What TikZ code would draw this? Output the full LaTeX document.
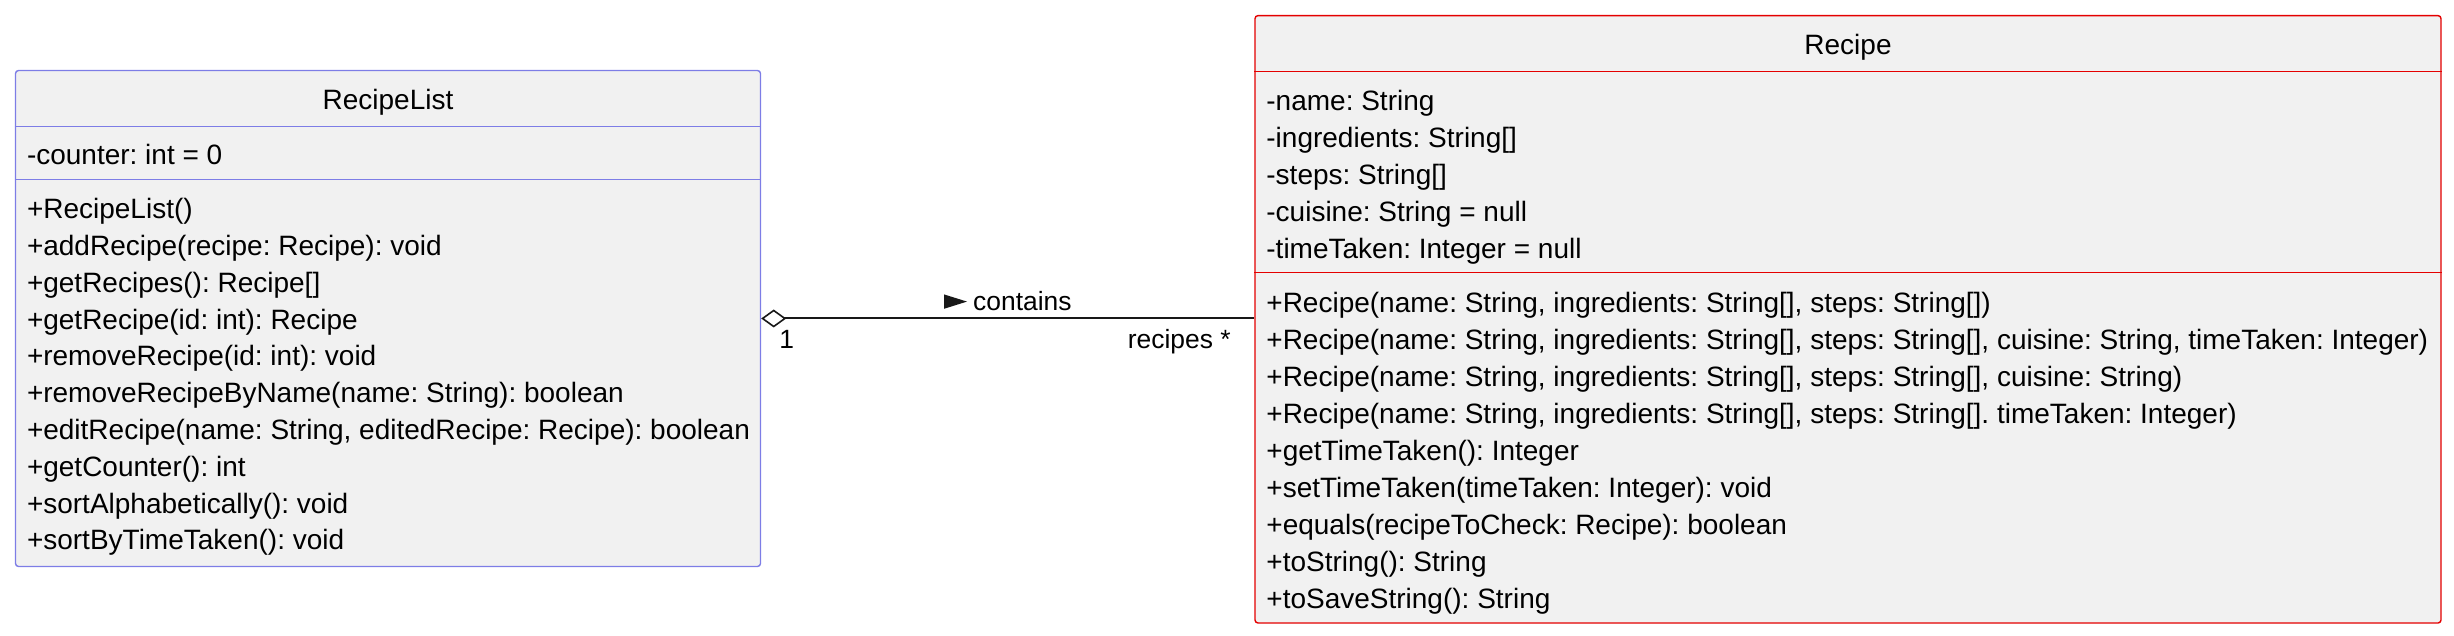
\documentclass[tikz,border=0pt]{standalone}
\usepackage{fontspec}
\setmainfont{Liberation Sans}
\usetikzlibrary{arrows.meta}
\definecolor{boxfill}{HTML}{F1F1F1}
\definecolor{rlcol}{RGB}{125,125,230}
\definecolor{rccol}{RGB}{228,0,0}
\definecolor{linecol}{HTML}{181818}
\begin{document}
\frenchspacing
\begin{tikzpicture}[x=0.5pt,y=-0.5pt,
  classbox/.style={draw, fill=boxfill, rounded corners=1.5pt, line width=0.7pt, inner sep=0},
  sepline/.style={line width=0.7pt},
  txt/.style={anchor=base west, inner sep=0, font=\fontsize{14}{16}\selectfont},
  ttl/.style={anchor=base, inner sep=0, font=\fontsize{14}{16}\selectfont},
  lab/.style={anchor=base west, inner sep=0, font=\fontsize{13.2}{15}\selectfont},
  assoc/.style={draw=linecol, line width=1pt}
]
\useasboundingbox (0,0) rectangle (2454,636);

% RecipeList class
\node[classbox, draw=rlcol, minimum width=372.5pt, minimum height=248pt] (rl) at (388,318.5) {};
\coordinate (rlh) at (0,126.8);
\coordinate (rls) at (0,179.6);
\draw[sepline, rlcol] (rl.west |- rlh) -- (rl.east |- rlh);
\draw[sepline, rlcol] (rl.west |- rls) -- (rl.east |- rls);
\node[ttl] (rlt) at (388,109.6) {RecipeList};
\node[txt] (rla1) at (26.6,164.4) {-counter: int = 0};
\foreach \t [count=\i from 0] in {%
  {+RecipeList()},
  {+addRecipe(recipe: Recipe): void},
  {+getRecipes(): Recipe[]},
  {+getRecipe(id: int): Recipe},
  {+removeRecipe(id: int): void},
  {+removeRecipeByName(name: String): boolean},
  {+editRecipe(name: String, editedRecipe: Recipe): boolean},
  {+getCounter(): int},
  {+sortAlphabetically(): void},
  {+sortByTimeTaken(): void}}
  \node[txt] (rlm\i) at (26.6,218.6+36.8*\i) {\t};

% Recipe class
\node[classbox, draw=rccol, minimum width=593pt, minimum height=303.7pt] (rc) at (1848,319.3) {};
\coordinate (rch) at (0,71.5);
\coordinate (rcs) at (0,272.5);
\draw[sepline, rccol] (rc.west |- rch) -- (rc.east |- rch);
\draw[sepline, rccol] (rc.west |- rcs) -- (rc.east |- rcs);
\node[ttl] (rct) at (1848,54.8) {Recipe};
\foreach \t [count=\i from 0] in {%
  {-name: String},
  {-ingredients: String[]},
  {-steps: String[]},
  {-cuisine: String = null},
  {-timeTaken: Integer = null}}
  \node[txt] (rca\i) at (1266,110.2+37*\i) {\t};
\foreach \t [count=\i from 0] in {%
  {+Recipe(name: String, ingredients: String[], steps: String[])},
  {+Recipe(name: String, ingredients: String[], steps: String[], cuisine: String, timeTaken: Integer)},
  {+Recipe(name: String, ingredients: String[], steps: String[], cuisine: String)},
  {+Recipe(name: String, ingredients: String[], steps: String[]. timeTaken: Integer)},
  {+getTimeTaken(): Integer},
  {+setTimeTaken(timeTaken: Integer): void},
  {+equals(recipeToCheck: Recipe): boolean},
  {+toString(): String},
  {+toSaveString(): String}}
  \node[txt] (rcm\i) at (1266,312.4+37.05*\i) {\t};

% association
\draw[assoc, {Diamond[open, length=12.5pt, width=9pt, line width=0.8pt]}-] (rl.east) -- (rl.east -| rc.west);
\node[lab] (lbl) at (972.8,311) {contains};
\fill[linecol] (944,294.4) -- (967,301.6) -- (944,308.8) -- cycle;
\node[lab] (m1) at (779,348.5) {1};
\node[lab, anchor=base east] (m2) at (1231,348.5) {recipes *};
\end{tikzpicture}
\end{document}
